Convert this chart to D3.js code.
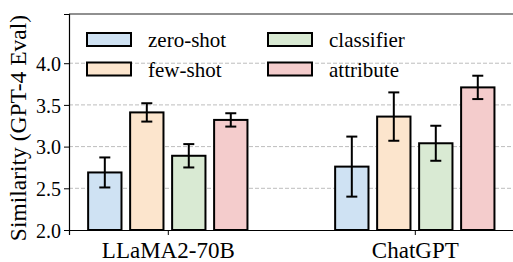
<!DOCTYPE html>
<html>
<head>
<meta charset="utf-8">
<script src="https://cdn.jsdelivr.net/npm/d3@7"></script>
<style>
  body { margin: 0; background: #fff; }
  svg text { font-family: "Liberation Serif", "DejaVu Serif", serif; fill: #000; }
</style>
</head>
<body>
<div id="container"></div>
<script>
/* CONSTANTS AND GLOBALS */
const width = 513,
  height = 262,
  margin = { top: 14, bottom: 32, left: 69, right: -0.6 };
const serif = "'Liberation Serif', 'DejaVu Serif', serif";

/* DATA */
const models = ["LLaMA2-70B", "ChatGPT"];
const methods = ["zero-shot", "few-shot", "classifier", "attribute"];
const means = [
  [2.69, 3.41, 2.89, 3.32],
  [2.76, 3.36, 3.04, 3.71]
];
const errs = [
  [0.18, 0.11, 0.14, 0.08],
  [0.36, 0.29, 0.21, 0.14]
];
const yTicks = [2.0, 2.5, 3.0, 3.5, 4.0];
const colors = ["#cfe2f3", "#fce5cd", "#d9ead3", "#f4cccc"];

const rows = [];
models.forEach((m, gi) => methods.forEach((k, i) => {
  rows.push({ gi, i, model: m, method: k, v: means[gi][i], e: errs[gi][i] });
}));

/* SCALES */
const xScale = d3.scaleLinear()
  .domain([-0.4, 1.4])
  .range([margin.left, width - margin.right]);

const yScale = d3.scaleLinear()
  .domain([2.0, 4.59])
  .range([height - margin.bottom, margin.top]);

const colorScale = d3.scaleOrdinal().domain(methods).range(colors);

const step = 0.17, barW = 0.135;
const xPos = d => d.gi + (d.i - 1.5) * step;

/* SVG */
const svg = d3.select("#container")
  .append("svg")
  .attr("width", width)
  .attr("height", height)
  .attr("font-family", serif);

// grid
svg.append("g")
  .selectAll("line")
  .data(yTicks.slice(1))
  .join("line")
  .attr("x1", margin.left)
  .attr("x2", width)
  .attr("y1", d => yScale(d))
  .attr("y2", d => yScale(d))
  .attr("stroke", "#bdbdbd")
  .attr("stroke-width", 1)
  .attr("stroke-dasharray", "4,2");

// bars
svg.append("g")
  .selectAll("rect")
  .data(rows)
  .join("rect")
  .attr("x", d => xScale(xPos(d) - barW / 2))
  .attr("width", d => xScale(barW) - xScale(0))
  .attr("y", d => yScale(d.v))
  .attr("height", d => yScale(2.0) - yScale(d.v))
  .attr("fill", d => colorScale(d.method))
  .attr("stroke", "#000")
  .attr("stroke-width", 2);

// error bars
const eb = svg.append("g")
  .selectAll("g")
  .data(rows)
  .join("g")
  .attr("stroke", "#000")
  .attr("stroke-width", 2);
eb.append("line")
  .attr("x1", d => xScale(xPos(d)))
  .attr("x2", d => xScale(xPos(d)))
  .attr("y1", d => yScale(d.v - d.e))
  .attr("y2", d => yScale(d.v + d.e));
[1, -1].forEach(s => {
  eb.append("line")
    .attr("x1", d => xScale(xPos(d)) - 5.5)
    .attr("x2", d => xScale(xPos(d)) + 5.5)
    .attr("y1", d => yScale(d.v + s * d.e))
    .attr("y2", d => yScale(d.v + s * d.e));
});

// y axis
const yAxis = svg.append("g")
  .attr("transform", `translate(${margin.left},0)`)
  .call(d3.axisLeft(yScale).tickValues(yTicks).tickFormat(d3.format(".1f")).tickSize(5).tickPadding(3))
  .attr("font-family", serif);
yAxis.selectAll("text").attr("font-size", 20).attr("dy", "0.36em").attr("font-family", serif);
yAxis.select(".domain").attr("stroke", "#000").attr("stroke-width", 1.2);

// x axis
const xAxis = svg.append("g")
  .attr("transform", `translate(0,${yScale(2.0)})`)
  .call(d3.axisBottom(xScale).tickValues([0, 1]).tickFormat((d, i) => models[i]).tickSize(5).tickPadding(6))
  .attr("font-family", serif);
xAxis.selectAll("text").attr("font-size", 23).attr("dy", "0.72em").attr("font-family", serif);
xAxis.select(".domain").attr("stroke", "#000").attr("stroke-width", 1.2);

// top spine
svg.append("line")
  .attr("x1", margin.left).attr("x2", width)
  .attr("y1", margin.top).attr("y2", margin.top)
  .attr("stroke", "#222").attr("stroke-width", 1.2);

// y label
svg.append("text")
  .attr("transform", `translate(26,128) rotate(-90)`)
  .attr("text-anchor", "middle")
  .attr("font-size", 23.5)
  .attr("font-family", serif)
  .text("Similarity (GPT-4 Eval)");

// legend
const legend = svg.append("g")
  .selectAll("g")
  .data(methods)
  .join("g")
  .attr("transform", (d, i) => `translate(${i < 2 ? 87 : 268},${33 + (i % 2) * 29.5})`);
legend.append("rect")
  .attr("width", 44)
  .attr("height", 13)
  .attr("fill", d => colorScale(d))
  .attr("stroke", "#000")
  .attr("stroke-width", 2);
legend.append("text")
  .attr("x", 61)
  .attr("y", 14)
  .attr("font-size", 21)
  .attr("font-family", serif)
  .text(d => d);
</script>
</body>
</html>
